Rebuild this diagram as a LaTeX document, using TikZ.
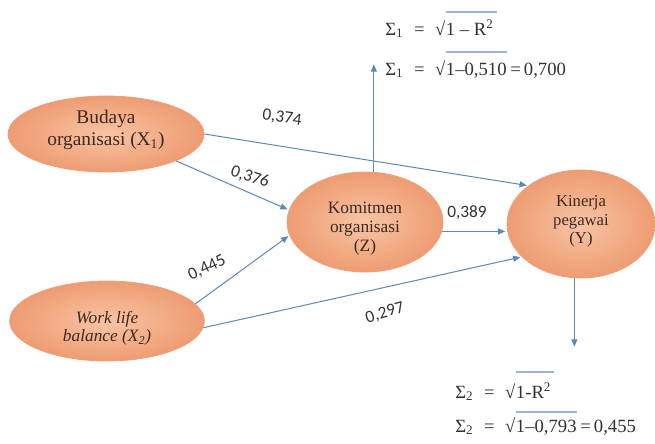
\documentclass[tikz,border=0pt]{standalone}
\usepackage{fontspec}
\setmainfont{Liberation Serif}
\newfontfamily\lblfont{Carlito}
\newfontfamily\formfont{Liberation Serif}
\usetikzlibrary{arrows.meta,shapes.geometric}
\definecolor{ellin}{HTML}{F8C4A4}
\definecolor{ellout}{HTML}{EE9C72}
\definecolor{ellborder}{HTML}{EFA07A}
\definecolor{arr}{HTML}{5B8AB6}
\definecolor{ovl}{HTML}{9DB5CD}
\definecolor{txtd}{HTML}{3A2A22}
\definecolor{txtg}{HTML}{333333}
\newcommand{\vtext}[2]{\raisebox{#1}[\height][\depth]{\begin{tabular}{@{}c@{}}#2\end{tabular}}}
\begin{document}
\begin{tikzpicture}[x=0.75pt,y=-0.75pt,
  var/.style={ellipse, draw=ellborder, line width=0.6pt, inner color=ellin, outer color=ellout, inner sep=0pt, text=txtd},
  conn/.style={draw=arr, line width=0.75pt, -{Triangle[length=5.5pt,width=4.5pt]}, shorten >=1pt},
  lbl/.style={font=\lblfont\fontsize{13}{15}\selectfont, text=txtg, inner sep=0pt},
  frm/.style={font=\formfont\fontsize{14}{17}\selectfont, text=txtg, inner sep=0pt, anchor=base west},
  ovline/.style={draw=ovl, line width=0.8pt}]
\useasboundingbox[fill=white] (0,0) rectangle (655,443);

% variables
\node[var, minimum width=147pt, minimum height=57pt, font=\fontsize{14.5}{16.5}\selectfont] (x1) at (106,134)
  {\vtext{3pt}{Budaya\\organisasi (X\textsubscript{1})}};
\node[var, minimum width=146pt, minimum height=60pt, font=\fontsize{13}{13.5}\selectfont\itshape] (x2) at (107,321)
  {\vtext{-6pt}{Work life\\balance (X\textsubscript{2})}};
\node[var, minimum width=117pt, minimum height=75pt, font=\fontsize{13}{14.5}\selectfont] (z) at (365,222)
  {\vtext{-5pt}{Komitmen\\organisasi\\(Z)}};
\node[var, minimum width=111pt, minimum height=81pt, font=\fontsize{12.5}{14}\selectfont] (y) at (581,224)
  {\vtext{2pt}{Kinerja\\pegawai\\(Y)}};

% connectors
\draw[conn] (x1.0) -- (y.144);
\draw[conn] (x1.-21) -- (z.171);
\draw[conn] (x2.11) -- (z.190);
\draw[conn] (x2.-4) -- (y.209);
\draw[conn] (z.-7) -- (z.-7 -| y.west);
\coordinate (uptip) at (375,63);
\draw[conn] (z.80) -- (z.80 |- uptip);
\coordinate (dntip) at (573,348);
\draw[conn] (y.-97) -- (y.-97 |- dntip);

% path coefficients
\node[lbl, rotate=-8] (l1) at (282,118) {0,374};
\node[lbl, rotate=-18] (l2) at (250,177) {0,376};
\node[lbl, rotate=25] (l3) at (207,268) {0,445};
\node[lbl, rotate=17] (l4) at (385,313) {0,297};
\node[lbl] (l5) at (467,213) {0,389};

% error formulas
\node[frm] (f1a) at (385,35) {Σ\textsubscript{1}\hspace{8pt}=\hspace{8pt}√\hspace{3pt}};
\node[frm] (f1b) at (f1a.base east) {1 – R\textsuperscript{2}};
\draw[ovline] (f1b.west |- 0,12) -- ([xshift=2pt]f1b.east |- 0,12);

\node[frm] (f2a) at (385,75) {Σ\textsubscript{1}\hspace{8pt}=\hspace{8pt}√};
\node[frm] (f2b) at (f2a.base east) {1–0,510};
\node[frm] (f2c) at (f2b.base east) {\,=\,0,700};
\draw[ovline] (f2b.west |- 0,52) -- (f2b.east |- 0,52);

\node[frm] (f3a) at (455,398) {Σ\textsubscript{2}\hspace{8pt}=\hspace{8pt}√\hspace{3pt}};
\node[frm] (f3b) at (f3a.base east) {1-R\textsuperscript{2}};
\draw[ovline] (f3b.west |- 0,372) -- ([xshift=2pt]f3b.east |- 0,372);

\node[frm] (f4a) at (455,432) {Σ\textsubscript{2}\hspace{8pt}=\hspace{8pt}√};
\node[frm] (f4b) at (f4a.base east) {1–0,793};
\node[frm] (f4c) at (f4b.base east) {\,=\,0,455};
\draw[ovline] (f4b.west |- 0,412) -- (f4b.east |- 0,412);
\end{tikzpicture}
\end{document}
